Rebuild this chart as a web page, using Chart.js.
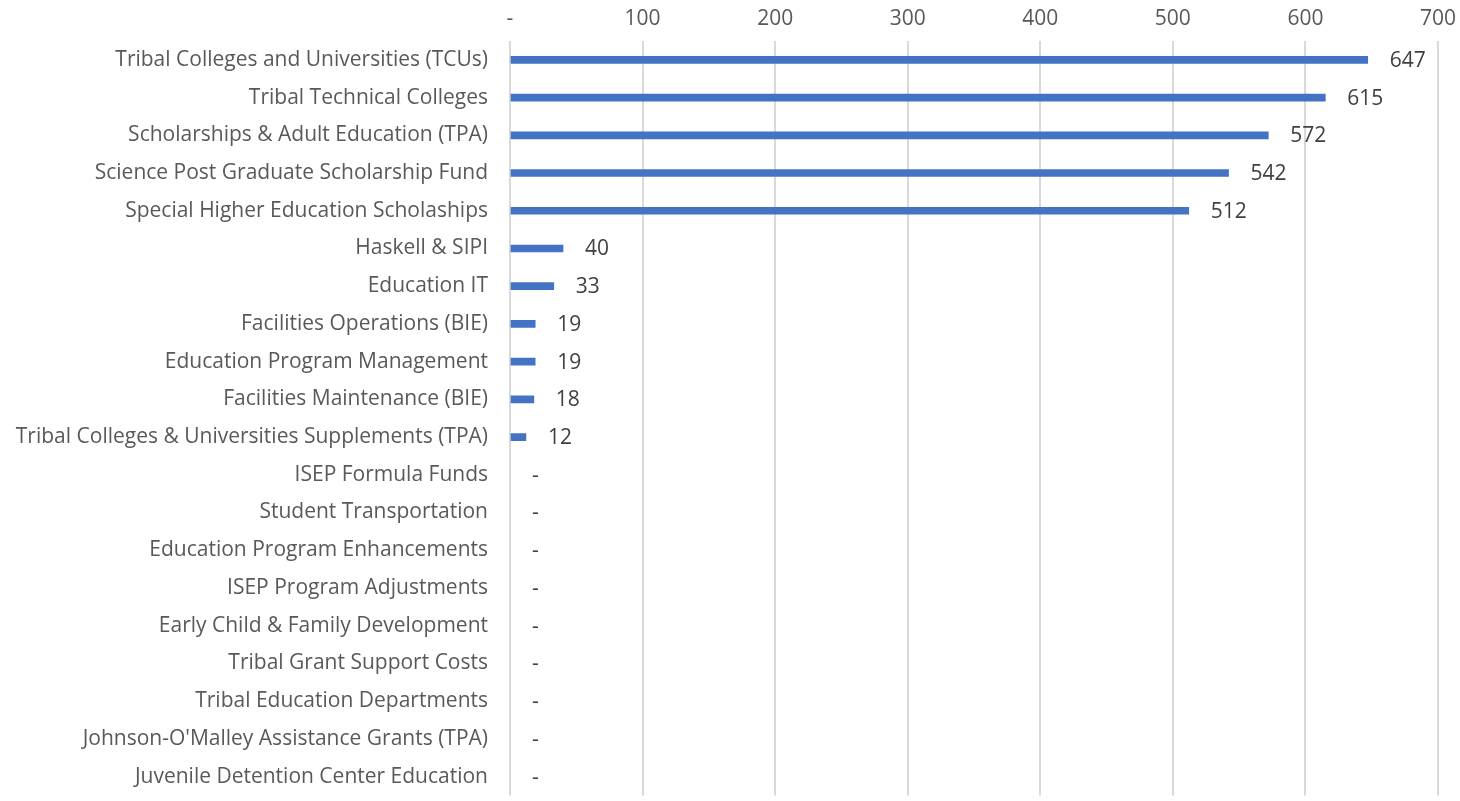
<!DOCTYPE html>
<html>
<head>
<meta charset="utf-8">
<script src="https://cdn.jsdelivr.net/npm/chart.js@4/dist/chart.umd.min.js"></script>
<style>
  html, body { margin: 0; padding: 0; background: #fff; overflow: hidden; height: 801px; }
  canvas { display: block; }
</style>
</head>
<body>
<canvas id="myChart" width="1460" height="830"></canvas>
<script>
// categories
const programs = [
    'Tribal Colleges and Universities (TCUs)',
    'Tribal Technical Colleges',
    'Scholarships & Adult Education (TPA)',
    'Science Post Graduate Scholarship Fund',
    'Special Higher Education Scholaships',
    'Haskell & SIPI',
    'Education IT',
    'Facilities Operations (BIE)',
    'Education Program Management',
    'Facilities Maintenance (BIE)',
    'Tribal Colleges & Universities Supplements (TPA)',
    'ISEP Formula Funds',
    'Student Transportation',
    'Education Program Enhancements',
    'ISEP Program Adjustments',
    'Early Child & Family Development',
    'Tribal Grant Support Costs',
    'Tribal Education Departments',
    "Johnson-O'Malley Assistance Grants (TPA)",
    'Juvenile Detention Center Education'
];

// series values
const amounts = [647, 615, 572, 542, 512, 40, 33, 19, 19, 18, 12, 0, 0, 0, 0, 0, 0, 0, 0, 0];

// tick labels for the value axis
const tickValues = [0, 100, 200, 300, 400, 500, 600, 700];

const fmt = (v) => (v === 0 ? '-' : String(v));
const fontFamily = '"Open Sans", "Noto Sans", sans-serif';

// value labels at the end of each bar
const barLabels = {
    id: 'barLabels',
    afterDatasetsDraw(chart) {
        const ctx = chart.ctx;
        const meta = chart.getDatasetMeta(0);
        ctx.save();
        ctx.font = '21px ' + fontFamily;
        ctx.fillStyle = '#404040';
        ctx.textBaseline = 'middle';
        ctx.textAlign = 'left';
        meta.data.forEach((bar, i) => {
            ctx.fillText(fmt(amounts[i]), bar.x + 22, bar.y + 1);
        });
        ctx.restore();
    }
};

const config = {
    type: 'bar',
    data: {
        labels: programs,
        datasets: [
            {
                data: amounts,
                backgroundColor: (c) => (amounts[c.dataIndex] === 0 ? 'rgba(0,0,0,0)' : '#4472C4'),
                borderWidth: 0,
                barThickness: 7,
            },
        ],
    },
    options: {
        indexAxis: 'y',
        responsive: false,
        animation: false,
        layout: {
            padding: { top: 4, right: 22, bottom: 0, left: 0 },
        },
        plugins: {
            legend: { display: false },
            tooltip: { enabled: false },
        },
        scales: {
            x: {
                position: 'top',
                min: 0,
                max: 700,
                afterBuildTicks: (axis) => {
                    axis.ticks = tickValues.map((v) => ({ value: v }));
                },
                afterFit: (axis) => {
                    axis.height = 37;
                    axis.paddingLeft = 0;
                    axis.paddingRight = 0;
                },
                ticks: {
                    color: '#595959',
                    font: { family: fontFamily, size: 21 },
                    padding: 9,
                    callback: (v) => fmt(v),
                },
                grid: {
                    color: '#d9d9d9',
                    lineWidth: 2,
                    drawTicks: false,
                },
                border: { display: false },
            },
            y: {
                afterFit: (axis) => { axis.width = 510; },
                ticks: {
                    color: '#595959',
                    font: { family: fontFamily, size: 21 },
                    padding: 22,
                    autoSkip: false,
                },
                grid: { display: false, drawTicks: false },
                border: { display: false },
            },
        },
    },
    plugins: [barLabels],
};

const myChart = new Chart(document.getElementById('myChart'), config);
</script>
</body>
</html>
